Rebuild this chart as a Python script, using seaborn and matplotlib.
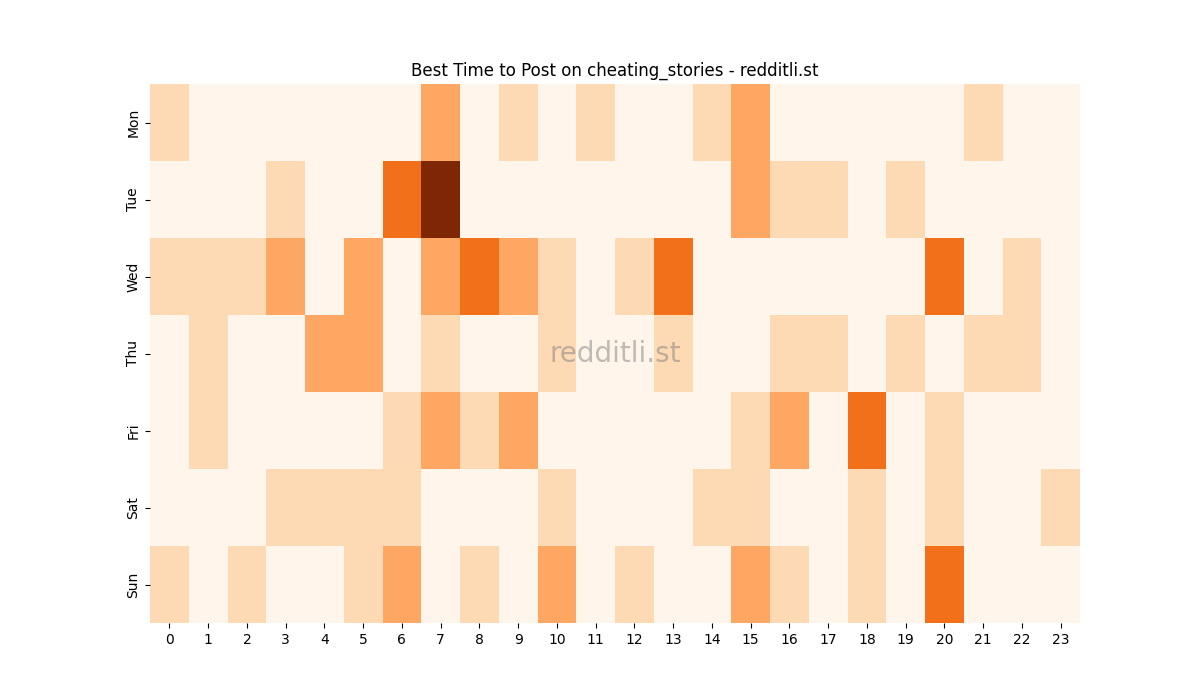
import matplotlib
matplotlib.use("Agg")
import matplotlib.pyplot as plt
import seaborn as sns
import pandas as pd

days = ["Mon", "Tue", "Wed", "Thu", "Fri", "Sat", "Sun"]
hours = list(range(24))
mon = [1,0,0,0,0,0,0,2,0,1,0,1,0,0,1,2,0,0,0,0,0,1,0,0]
tue = [0,0,0,1,0,0,3,5,0,0,0,0,0,0,0,2,1,1,0,1,0,0,0,0]
wed = [1,1,1,2,0,2,0,2,3,2,1,0,1,3,0,0,0,0,0,0,3,0,1,0]
thu = [0,1,0,0,2,2,0,1,0,0,1,0,0,1,0,0,1,1,0,1,0,1,1,0]
fri = [0,1,0,0,0,0,1,2,1,2,0,0,0,0,0,1,2,0,3,0,1,0,0,0]
sat = [0,0,0,1,1,1,1,0,0,0,1,0,0,0,1,1,0,0,1,0,1,0,0,1]
sun = [1,0,1,0,0,1,2,0,1,0,2,0,1,0,0,2,1,0,1,0,3,0,0,0]

df = pd.DataFrame([mon, tue, wed, thu, fri, sat, sun], index=days, columns=hours)

fig, ax = plt.subplots(figsize=(12, 7), dpi=100)
sns.heatmap(df, cmap="Oranges", cbar=False, ax=ax)
ax.set_title("Best Time to Post on cheating_stories - redditli.st")
ax.set_xlabel("")
ax.set_ylabel("")
ax.text(0.5, 0.5, "redditli.st", transform=ax.transAxes, ha="center", va="center",
        fontsize=20, color="gray", alpha=0.5)
fig.savefig("out.png")
